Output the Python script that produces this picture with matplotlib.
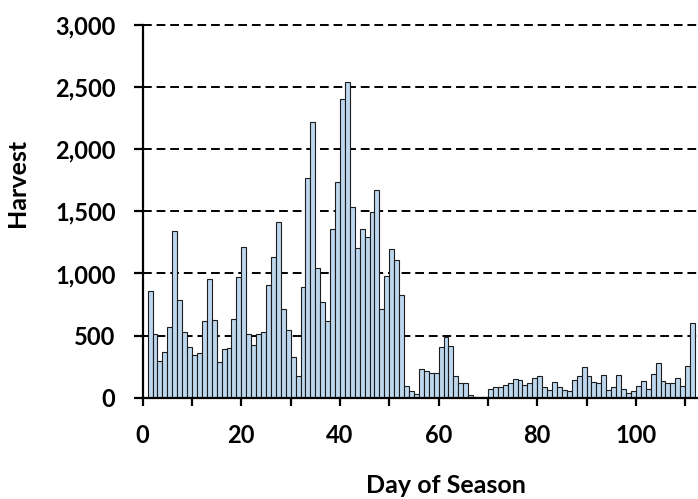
import matplotlib
matplotlib.use("Agg")
import matplotlib.pyplot as plt
from matplotlib.ticker import FuncFormatter, MultipleLocator

# daily harvest, day 1 .. day 111
days = list(range(1, 112))
harvest = [
    859, 510, 298, 365, 566, 1339, 784, 531, 411, 344,
    362, 620, 953, 623, 287, 392, 400, 631, 969, 1210,
    510, 421, 510, 529, 904, 1135, 1412, 711, 545, 330,
    172, 891, 1769, 2220, 1041, 770, 620, 1355, 1739, 2405,
    2542, 1533, 1208, 1355, 1294, 1498, 1669, 714, 980, 1194,
    1111, 829, 97, 50, 27, 228, 215, 199, 199, 411,
    491, 419, 175, 120, 120, 22, 8, 8, 9, 74,
    90, 83, 102, 121, 151, 142, 99, 118, 156, 172,
    83, 65, 129, 83, 59, 54, 142, 177, 250, 175,
    126, 118, 180, 59, 86, 185, 70, 35, 56, 91,
    134, 73, 194, 282, 134, 116, 118, 156, 94, 253,
    605,
]

x_label = "Day of Season"
y_label = "Harvest"

plt.rcParams['font.family'] = ['Lato', 'DejaVu Sans']
plt.rcParams['font.weight'] = 'bold'

fig = plt.figure(figsize=(6.98, 4.99), dpi=100)
W, H = 698, 499
left, right, top, bottom = 142.7, 698, 25, 397.7
ax = fig.add_axes([left / W, 1 - bottom / H, (right - left) / W, (bottom - top) / H])

ax.bar(days, harvest, width=1.0, align='edge', color='#BDD7EE',
       edgecolor='#1c1c1c', linewidth=0.8, zorder=2)

ax.set_xlim(0, 112.6)
ax.set_ylim(0, 3000)

# dashed gridlines
ax.yaxis.set_major_locator(MultipleLocator(500))
for v in range(500, 3001, 500):
    ax.axhline(v, color='black', lw=1.4, ls=(0, (4.5, 2.5)), zorder=1, clip_on=False)

ax.yaxis.set_major_formatter(FuncFormatter(lambda v, p: f"{int(v):,}"))
ax.xaxis.set_major_locator(MultipleLocator(20))
ax.xaxis.set_minor_locator(MultipleLocator(10))

for s in ['top', 'right']:
    ax.spines[s].set_visible(False)
for s in ['left', 'bottom']:
    ax.spines[s].set_linewidth(1.6)
    ax.spines[s].set_zorder(3)

ax.tick_params(axis='x', which='both', direction='out', length=6, width=1.6, pad=13,
               labelsize=17)
ax.tick_params(axis='y', which='major', direction='out', length=6.5, width=1.6, pad=13,
               labelsize=17)
for lab in ax.get_xticklabels() + ax.get_yticklabels():
    lab.set_fontweight('bold')

ax.set_xlabel(x_label, fontsize=18, fontweight='bold')
ax.xaxis.set_label_coords((446 - left) / (right - left), (bottom - 474) / (bottom - top))
ax.set_ylabel(y_label, fontsize=18, fontweight='bold')
ax.yaxis.set_label_coords((29 - left) / (right - left), (bottom - 183) / (bottom - top))

fig.savefig("out.png", dpi=100)
